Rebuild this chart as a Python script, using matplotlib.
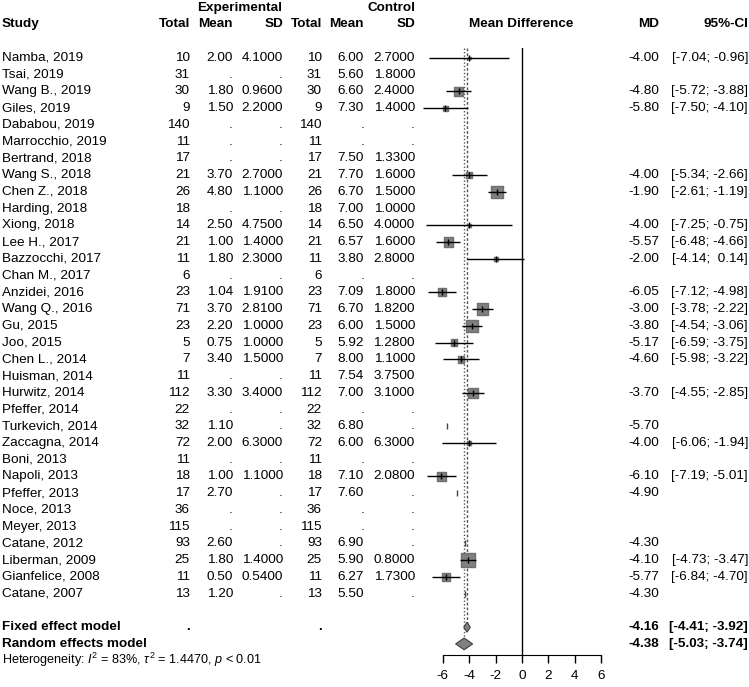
import numpy as np
import matplotlib
matplotlib.use("Agg")
import matplotlib.pyplot as plt
from matplotlib.patches import Polygon

plt.rcParams["font.family"] = ["Liberation Sans", "DejaVu Sans"]
plt.rcParams["axes.unicode_minus"] = False
plt.rcParams["mathtext.fontset"] = "custom"
plt.rcParams["mathtext.rm"] = "Liberation Sans"
plt.rcParams["mathtext.it"] = "Liberation Sans:italic"

nan = np.nan

# 研究数据
studies = ["Namba, 2019", "Tsai, 2019", "Wang B., 2019", "Giles, 2019", "Dababou, 2019",
           "Marrocchio, 2019", "Bertrand, 2018", "Wang S., 2018", "Chen Z., 2018",
           "Harding, 2018", "Xiong, 2018", "Lee H., 2017", "Bazzocchi, 2017", "Chan M., 2017",
           "Anzidei, 2016", "Wang Q., 2016", "Gu, 2015", "Joo, 2015", "Chen L., 2014",
           "Huisman, 2014", "Hurwitz, 2014", "Pfeffer, 2014", "Turkevich, 2014",
           "Zaccagna, 2014", "Boni, 2013", "Napoli, 2013", "Pfeffer, 2013", "Noce, 2013",
           "Meyer, 2013", "Catane, 2012", "Liberman, 2009", "Gianfelice, 2008", "Catane, 2007"]
n_total = [10, 31, 30, 9, 140, 11, 17, 21, 26, 18, 14, 21, 11, 6, 23, 71, 23, 5, 7, 11,
           112, 22, 32, 72, 11, 18, 17, 36, 115, 93, 25, 11, 13]
mean_e = [2.00, nan, 1.80, 1.50, nan, nan, nan, 3.70, 4.80, nan, 2.50, 1.00, 1.80, nan,
          1.04, 3.70, 2.20, 0.75, 3.40, nan, 3.30, nan, 1.10, 2.00, nan, 1.00, 2.70, nan,
          nan, 2.60, 1.80, 0.50, 1.20]
sd_e = [4.1, nan, 0.96, 2.2, nan, nan, nan, 2.7, 1.1, nan, 4.75, 1.4, 2.3, nan, 1.91, 2.81,
        1.0, 1.0, 1.5, nan, 3.4, nan, nan, 6.3, nan, 1.1, nan, nan, nan, nan, 1.4, 0.54, nan]
mean_c = [6.00, 5.60, 6.60, 7.30, nan, nan, 7.50, 7.70, 6.70, 7.00, 6.50, 6.57, 3.80, nan,
          7.09, 6.70, 6.00, 5.92, 8.00, 7.54, 7.00, nan, 6.80, 6.00, nan, 7.10, 7.60, nan,
          nan, 6.90, 5.90, 6.27, 5.50]
sd_c = [2.7, 1.8, 2.4, 1.4, nan, nan, 1.33, 1.6, 1.5, 1.0, 4.0, 1.6, 2.8, nan, 1.8, 1.82,
        1.5, 1.28, 1.1, 3.75, 3.1, nan, nan, 6.3, nan, 2.08, nan, nan, nan, nan, 0.8, 1.73, nan]
md = [-4.00, nan, -4.80, -5.80, nan, nan, nan, -4.00, -1.90, nan, -4.00, -5.57, -2.00, nan,
      -6.05, -3.00, -3.80, -5.17, -4.60, nan, -3.70, nan, -5.70, -4.00, nan, -6.10, -4.90,
      nan, nan, -4.30, -4.10, -5.77, -4.30]
ci_lo = [-7.04, nan, -5.72, -7.50, nan, nan, nan, -5.34, -2.61, nan, -7.25, -6.48, -4.14, nan,
         -7.12, -3.78, -4.54, -6.59, -5.98, nan, -4.55, nan, nan, -6.06, nan, -7.19, nan, nan,
         nan, nan, -4.73, -6.84, nan]
ci_hi = [-0.96, nan, -3.88, -4.10, nan, nan, nan, -2.66, -1.19, nan, -0.75, -4.66, 0.14, nan,
         -4.98, -2.22, -3.06, -3.75, -3.22, nan, -2.85, nan, nan, -1.94, nan, -5.01, nan, nan,
         nan, nan, -3.47, -4.70, nan]

fixed = (-4.16, -4.41, -3.92)
random_ = (-4.38, -5.03, -3.74)
xticks = [-6, -4, -2, 0, 2, 4, 6]


def fmt(v, d):
    return "." if np.isnan(v) else f"{v:.{d}f}"


W, H = 749, 687
fig = plt.figure(figsize=(W / 100, H / 100), dpi=100)

# 文字层：像素坐标
bg = fig.add_axes([0, 0, 1, 1])
bg.set_xlim(0, W)
bg.set_ylim(H, 0)
bg.axis("off")

row0, step = 58, 16.74
fs = 9.7

# 表头
bg.text(240, 8, "Experimental", ha="center", va="center", fontsize=fs, fontweight="bold")
bg.text(415, 8, "Control", ha="right", va="center", fontsize=fs, fontweight="bold")
hy = 24
bg.text(2, hy, "Study", ha="left", va="center", fontsize=fs, fontweight="bold")
for x, s in [(190, "Total"), (233, "Mean"), (283, "SD"), (322, "Total"), (364, "Mean"),
             (415, "SD"), (659, "MD"), (748, "95%-CI")]:
    bg.text(x, hy, s, ha="right", va="center", fontsize=fs, fontweight="bold")
bg.text(521, hy, "Mean Difference", ha="center", va="center", fontsize=fs, fontweight="bold")

for i, name in enumerate(studies):
    y = row0 + step * i
    bg.text(2, y, name, ha="left", va="center", fontsize=fs)
    bg.text(190, y, str(n_total[i]), ha="right", va="center", fontsize=fs)
    bg.text(233, y, fmt(mean_e[i], 2), ha="right", va="center", fontsize=fs)
    bg.text(283, y, fmt(sd_e[i], 4), ha="right", va="center", fontsize=fs)
    bg.text(322, y, str(n_total[i]), ha="right", va="center", fontsize=fs)
    bg.text(364, y, fmt(mean_c[i], 2), ha="right", va="center", fontsize=fs)
    bg.text(415, y, fmt(sd_c[i], 4), ha="right", va="center", fontsize=fs)
    if not np.isnan(md[i]):
        bg.text(659, y, f"{md[i]:.2f}", ha="right", va="center", fontsize=fs)
    if not np.isnan(ci_lo[i]):
        lo = f"{ci_lo[i]:.2f}".rjust(5)
        hi = f"{ci_hi[i]:.2f}".rjust(5)
        bg.text(748, y, f"[{lo}; {hi}]", ha="right", va="center", fontsize=fs)

n_st = len(studies)
r_fix = n_st + 1
r_ran = n_st + 2
r_het = n_st + 3
for r, label, est in [(r_fix, "Fixed effect model", fixed), (r_ran, "Random effects model", random_)]:
    y = row0 + step * r
    bg.text(2, y, label, ha="left", va="center", fontsize=fs, fontweight="bold")
    bg.text(659, y, f"{est[0]:.2f}", ha="right", va="center", fontsize=fs, fontweight="bold")
    bg.text(748, y, f"[{est[1]:.2f}; {est[2]:.2f}]", ha="right", va="center",
            fontsize=fs, fontweight="bold")
bg.text(190, row0 + step * r_fix, ".", ha="right", va="center", fontsize=fs, fontweight="bold")
bg.text(322, row0 + step * r_fix, ".", ha="right", va="center", fontsize=fs, fontweight="bold")
bg.text(2, row0 + step * r_het - 1,
        r"Heterogeneity: $I^2$ = 83%, $\tau^2$ = 1.4470, $p$ < 0.01",
        ha="left", va="center", fontsize=9.1)

# 森林图
x0px, scale = 522, 13.2
xmin, xmax = -8.5, 8.5
top_px, bot_px = 48, 655
fa = fig.add_axes([(x0px + xmin * scale) / W, 1 - bot_px / H,
                   (xmax - xmin) * scale / W, (bot_px - top_px) / H])
fa.patch.set_alpha(0)
fa.set_xlim(xmin, xmax)
fa.set_ylim((bot_px - row0) / step, (top_px - row0) / step)
for s in ["top", "left", "right"]:
    fa.spines[s].set_visible(False)
fa.spines["bottom"].set_bounds(-6, 6)
fa.set_yticks([])
fa.set_xticks(xticks)
fa.set_xticklabels([str(t) for t in xticks], fontsize=fs)
fa.tick_params(axis="x", length=6, width=1, pad=5)

fa.axvline(0, color="black", lw=1)
fa.plot([fixed[0], fixed[0]], [fa.get_ylim()[1], r_fix], color="#555555", lw=1, ls=(0, (2, 1.5)))
fa.plot([random_[0], random_[0]], [fa.get_ylim()[1], r_ran], color="#555555", lw=1, ls=(0, (1, 1.5)))

rows = np.arange(n_st)
md_a = np.array(md)
lo_a = np.array(ci_lo)
hi_a = np.array(ci_hi)
se = (hi_a - lo_a) / (2 * 1.96)
w = 1 / se ** 2
has_ci = ~np.isnan(lo_a)
side_pt = 4.5 * np.sqrt(w[has_ci]) * 0.72
fa.scatter(md_a[has_ci], rows[has_ci], marker="s", s=side_pt ** 2, color="#808080",
           edgecolors="#707070", zorder=3)
fa.hlines(rows[has_ci], lo_a[has_ci], hi_a[has_ci], color="black", lw=1, zorder=4)
fa.plot(md_a[has_ci], rows[has_ci], ls="none", marker="|", ms=4, color="black", zorder=5)
only_pt = (~has_ci) & (~np.isnan(md_a))
fa.plot(md_a[only_pt], rows[only_pt], ls="none", marker="|", ms=4, color="#444444", zorder=5)

for r, est, h in [(r_fix, fixed, 0.3), (r_ran, random_, 0.35)]:
    poly = Polygon([(est[1], r), (est[0], r - h), (est[2], r), (est[0], r + h)],
                   closed=True, facecolor="#808080", edgecolor="#404040", lw=0.8, zorder=4)
    fa.add_patch(poly)

fig.savefig("out.png", dpi=100)
